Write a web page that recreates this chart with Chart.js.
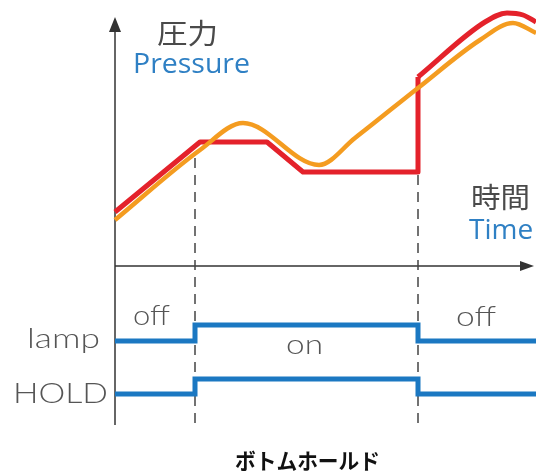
<!DOCTYPE html>
<html>
<head>
<meta charset="utf-8">
<script src="https://cdn.jsdelivr.net/npm/chart.js@4"></script>
<style>
  html, body { margin: 0; padding: 0; background: #fff; }
  #wrap { width: 536px; height: 472px; position: relative; }
</style>
</head>
<body>
<div id="wrap"><canvas id="holdChart"></canvas></div>
<script>
// Bottom hold timing chart: pressure vs time, lamp / HOLD signals below

// held pressure (red) up to the release, then the part after release
const heldTime = [0, 8.5, 15.2, 18.8, 30.3, 30.3];
const heldPressure = [5.4, 12.4, 12.4, 9.4, 9.4, 18.9];
const releasedTime = [30.3, 37.0, 39.2, 40.8, 42.1];
const releasedPressure = [18.9, 24.4, 25.3, 25.1, 24.4];

// actual pressure (orange)
const rawTime = [0, 8.5, 12.8, 20.4, 24, 30.3, 36.5, 39.8, 42.1];
const rawPressure = [4.6, 11.6, 14.3, 10.1, 12.8, 17.8, 22.6, 24.3, 23.3];

// signals (0 = off, 1 = on)
const switchTime = [0, 8, 30.3, 42.1];
const lampState = [0, 1, 0, 0];
const holdState = [0, 1, 0, 0];

const RED = '#e4222b';
const ORANGE = '#f49c20';
const BLUE = '#1b78c2';
const AXIS = '#333333';

function pts(xs, ys) {
    return xs.map((x, i) => ({ x: x, y: ys[i] }));
}

// place a 0/1 signal so that off/on land on the given pixel rows
function levelAxis(offPx, onPx, height) {
    const per = offPx - onPx;
    const max = offPx / per;
    return { min: max - height / per, max: max };
}

function fitText(ctx, text, x, y, width, font, color, baseline) {
    ctx.save();
    ctx.font = font;
    ctx.fillStyle = color;
    ctx.textAlign = 'left';
    ctx.textBaseline = baseline || 'alphabetic';
    const w = ctx.measureText(text).width;
    ctx.translate(x, y);
    if (width) ctx.scale(width / w, 1);
    ctx.fillText(text, 0, 0);
    ctx.restore();
}

const decor = {
    id: 'decor',
    beforeDatasetsDraw(chart) {
        const ctx = chart.ctx;
        const xs = chart.scales.x, ys = chart.scales.y;
        const x0 = xs.getPixelForValue(0);
        const y0 = ys.getPixelForValue(0);
        const top = ys.getPixelForValue(24.9);
        const bottom = ys.getPixelForValue(-15.9);
        const right = xs.getPixelForValue(41.9);

        ctx.save();
        ctx.strokeStyle = AXIS;
        ctx.fillStyle = AXIS;
        ctx.lineWidth = 1.5;
        // y axis
        ctx.beginPath();
        ctx.moveTo(x0, bottom);
        ctx.lineTo(x0, top + 10);
        ctx.stroke();
        ctx.beginPath();
        ctx.moveTo(x0, top);
        ctx.lineTo(x0 - 6, top + 15);
        ctx.lineTo(x0 + 6, top + 15);
        ctx.closePath();
        ctx.fill();
        // x axis
        ctx.beginPath();
        ctx.moveTo(x0, y0);
        ctx.lineTo(right - 10, y0);
        ctx.stroke();
        ctx.beginPath();
        ctx.moveTo(right, y0);
        ctx.lineTo(right - 14, y0 - 5);
        ctx.lineTo(right - 14, y0 + 5);
        ctx.closePath();
        ctx.fill();

        // dashed switch lines
        ctx.setLineDash([10, 7]);
        ctx.strokeStyle = '#444';
        ctx.lineWidth = 1.5;
        [[switchTime[1], 10.8], [switchTime[2], 9.1]].forEach(([t, p]) => {
            const x = xs.getPixelForValue(t);
            ctx.beginPath();
            ctx.moveTo(x, ys.getPixelForValue(p));
            ctx.lineTo(x, bottom);
            ctx.stroke();
        });
        ctx.restore();
    },
    afterDatasetsDraw(chart) {
        const ctx = chart.ctx;
        const cjk = '"Noto Sans CJK JP", sans-serif';
        const latin = '300 27px Lato, "DejaVu Sans", sans-serif';
        fitText(ctx, '圧力', 157, 33, 61, '28px ' + cjk, '#4a4a4a', 'middle');
        fitText(ctx, 'Pressure', 133, 73, 117, '28px "Open Sans", sans-serif', '#2f80c4');
        fitText(ctx, '時間', 471, 197, 59, '28px ' + cjk, '#4a4a4a', 'middle');
        fitText(ctx, 'Time', 469, 239, null, '28px "Open Sans", sans-serif', '#2f80c4');
        fitText(ctx, 'off', 133, 325, 37, latin, '#555');
        fitText(ctx, 'on', 286, 354, 37, latin, '#555');
        fitText(ctx, 'off', 456, 326, 40, latin, '#555');
        fitText(ctx, 'lamp', 27, 348, 73, latin, '#555');
        fitText(ctx, 'HOLD', 13, 403, 95, latin, '#555');
        fitText(ctx, 'ボトムホールド', 235, 461, 145, 'bold 22px ' + cjk, '#111', 'middle');
    }
};

const H = 472;

new Chart(document.getElementById('holdChart'), {
    type: 'line',
    data: {
        datasets: [
            {
                label: 'actual',
                data: pts(rawTime, rawPressure),
                borderColor: ORANGE,
                borderWidth: 4.5,
                cubicInterpolationMode: 'monotone',
                pointRadius: 0,
                order: 0
            },
            {
                label: 'held',
                data: pts(heldTime, heldPressure),
                borderColor: RED,
                borderWidth: 5,
                borderJoinStyle: 'round',
                tension: 0,
                pointRadius: 0,
                order: 1
            },
            {
                label: 'released',
                data: pts(releasedTime, releasedPressure),
                borderColor: RED,
                borderWidth: 5,
                cubicInterpolationMode: 'monotone',
                pointRadius: 0,
                order: 1
            },
            {
                label: 'lamp',
                data: pts(switchTime, lampState),
                yAxisID: 'lamp',
                borderColor: BLUE,
                borderWidth: 5,
                stepped: 'before',
                pointRadius: 0,
                order: 2
            },
            {
                label: 'HOLD',
                data: pts(switchTime, holdState),
                yAxisID: 'hold',
                borderColor: BLUE,
                borderWidth: 5,
                stepped: 'before',
                pointRadius: 0,
                order: 2
            }
        ]
    },
    options: {
        responsive: true,
        maintainAspectRatio: false,
        animation: false,
        layout: { padding: 0 },
        clip: false,
        plugins: {
            legend: { display: false },
            tooltip: { enabled: false }
        },
        scales: {
            x: { type: 'linear', min: -11.5, max: 42.1, display: false },
            y: { type: 'linear', min: -20.6, max: 26.6, display: false },
            lamp: Object.assign({ type: 'linear', display: false }, levelAxis(341, 325, H)),
            hold: Object.assign({ type: 'linear', display: false }, levelAxis(394, 379, H))
        }
    },
    plugins: [decor]
});
</script>
</body>
</html>
